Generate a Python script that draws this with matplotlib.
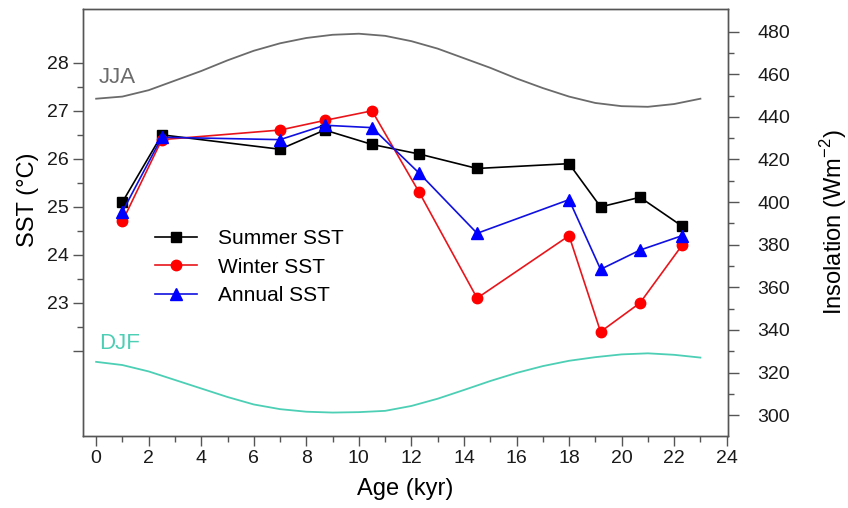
import numpy as np
import matplotlib
matplotlib.use("Agg")
import matplotlib.pyplot as plt
from matplotlib.ticker import FixedLocator, FuncFormatter

plt.rcParams['font.family'] = ['Liberation Sans', 'DejaVu Sans']
plt.rcParams['mathtext.fontset'] = 'custom'
plt.rcParams['mathtext.rm'] = 'Liberation Sans'

# SST records (left axis)
age = [1.0, 2.5, 7.0, 8.7, 10.5, 12.3, 14.5, 18.0, 19.2, 20.7, 22.3]
summer_sst = [25.1, 26.5, 26.2, 26.6, 26.3, 26.1, 25.8, 25.9, 25.0, 25.2, 24.6]
winter_sst = [24.7, 26.4, 26.6, 26.8, 27.0, 25.3, 23.1, 24.4, 22.4, 23.0, 24.2]
annual_sst = [24.9, 26.45, 26.4, 26.7, 26.65, 25.7, 24.45, 25.15, 23.7, 24.1, 24.4]

# insolation curves (right axis)
ins_age = list(range(0, 24))
jja = [448.5, 449.5, 452.5, 457, 461.5, 466.5, 471, 474.5, 477, 478.5, 479, 478,
       475.5, 472, 467.5, 463, 458, 453.5, 449.5, 446.5, 445, 444.7, 446, 448.5]
djf = [325, 323.5, 320.5, 316.5, 312.5, 308.5, 305, 302.8, 301.6, 301.2, 301.4, 302,
       304.3, 307.7, 311.8, 316, 319.8, 323, 325.5, 327.2, 328.5, 329, 328.3, 327]

fig = plt.figure(figsize=(8.48, 5.08), dpi=100)
ax = fig.add_axes([83 / 848, 1 - 436 / 508, 645 / 848, 427 / 508])
ax2 = ax.twinx()

ax.plot(age, summer_sst, color='black', lw=1.2, marker='s', ms=7, label='Summer SST', zorder=3)
ax.plot(age, winter_sst, color='#e8151b', lw=1.2, marker='o', mfc='#ff0000', mec='#ff0000',
        ms=7.5, label='Winter SST', zorder=3)
ax.plot(age, annual_sst, color='#1010e0', lw=1.2, marker='^', mfc='#0000ff', mec='#0000ff',
        ms=8, label='Annual SST', zorder=3)

ax2.plot(ins_age, jja, color='#6b6b6b', lw=1.3)
ax2.plot(ins_age, djf, color='#4ccfb5', lw=1.3)

ax.text(0.1, 27.58, 'JJA', color='#6b6b6b', fontsize=16, va='baseline')
ax.text(0.1, 22.04, 'DJF', color='#4ccfb5', fontsize=16, va='baseline')

ax.set_xlim(-0.5, 24.05)
ax.set_ylim(20.23, 29.12)
ax2.set_ylim(290.2, 490.6)

ax.xaxis.set_major_locator(FixedLocator(np.arange(0, 25, 2)))
ax.xaxis.set_minor_locator(FixedLocator(np.arange(1, 24, 2)))
ax.yaxis.set_major_locator(FixedLocator(np.arange(22, 29, 1)))
ax.yaxis.set_minor_locator(FixedLocator(np.arange(22.5, 28, 1)))
ax.yaxis.set_major_formatter(FuncFormatter(lambda v, p: '' if v < 22.5 else f'{v:.0f}'))
ax2.yaxis.set_major_locator(FixedLocator(np.arange(300, 481, 20)))
ax2.yaxis.set_minor_locator(FixedLocator(np.arange(310, 480, 20)))

for a in (ax, ax2):
    for s in a.spines.values():
        s.set_color('#555555')
        s.set_linewidth(1.0)
    a.tick_params(which='major', length=7, width=1.0, color='#555555', labelsize=14,
                  labelcolor='#1a1a1a', pad=3)
    a.tick_params(which='minor', length=4, width=1.0, color='#555555')
ax2.tick_params(axis='y', which='major', length=8, pad=13)

ax.set_xlabel('Age (kyr)', fontsize=17, labelpad=8)
ax.set_ylabel('SST (°C)', fontsize=17, va='center')
ax.yaxis.set_label_coords(-0.085, 0.553)
ax2.set_ylabel('Insolation (Wm$^{-2}$)', fontsize=17, va='center')
ax2.yaxis.set_label_coords(1.163, 0.5)

ax.legend(loc='upper left', bbox_to_anchor=(0.112, 0.484), frameon=False, fontsize=15,
          handlelength=2.0, handletextpad=1.0, labelspacing=0.45, borderpad=0, borderaxespad=0)

fig.savefig('out.png', dpi=100)
